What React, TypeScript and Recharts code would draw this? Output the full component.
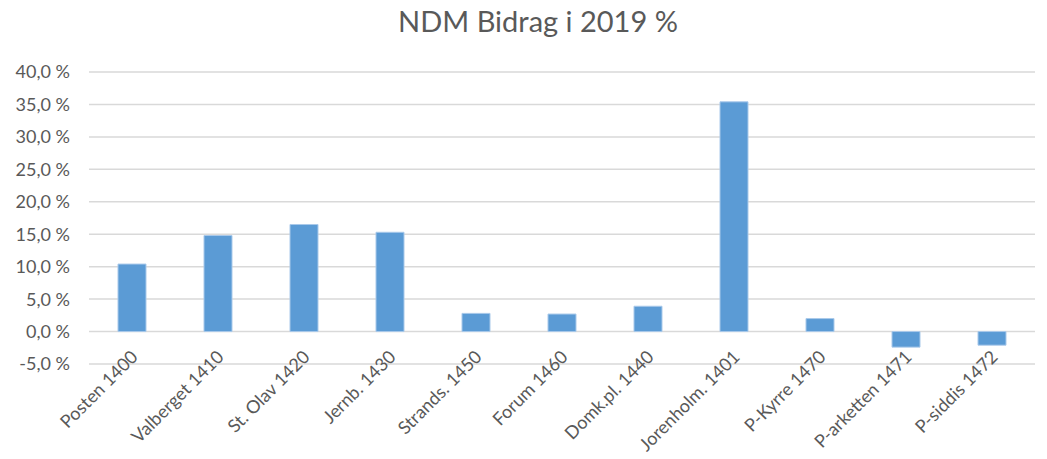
import { BarChart, Bar, XAxis, YAxis, CartesianGrid } from 'recharts';

const categories = [
  'Posten 1400',
  'Valberget 1410',
  'St. Olav 1420',
  'Jernb. 1430',
  'Strands. 1450',
  'Forum 1460',
  'Domk.pl. 1440',
  'Jorenholm. 1401',
  'P-Kyrre 1470',
  'P-arketten 1471',
  'P-siddis 1472',
];

const bidrag = [10.4, 14.8, 16.5, 15.3, 2.8, 2.7, 3.9, 35.4, 2.0, -2.4, -2.1];

const yTicks = [-5, 0, 5, 10, 15, 20, 25, 30, 35, 40];

const data = categories.map((name, i) => ({ name, value: bidrag[i] }));

const FONT = 'Lato, "Open Sans", sans-serif';
const TEXT = '#595959';

const formatPct = (v: number): string => `${v.toFixed(1).replace('.', ',')} %`;

const CategoryTick = (props: any) => {
  const { x, y, payload } = props;
  const ax = x + 7;
  const ay = y - 14;
  return (
    <text
      x={ax}
      y={ay}
      transform={`rotate(-45, ${ax}, ${ay})`}
      textAnchor="end"
      fill={TEXT}
      fontSize={18}
      fontFamily={FONT}
    >
      {payload.value}
    </text>
  );
};

export default function App() {
  return (
    <div style={{ position: 'fixed', left: 0, top: 0, width: 1047, height: 459, background: '#fff' }}>
      <div
        style={{
          position: 'absolute',
          left: 538,
          top: 5,
          transform: 'translateX(-50%)',
          whiteSpace: 'nowrap',
          fontFamily: FONT,
          fontSize: 29,
          lineHeight: '32px',
          color: TEXT,
        }}
      >
        NDM Bidrag i 2019 %
      </div>
      <BarChart
        width={1047}
        height={459}
        data={data}
        margin={{ top: 72, right: 12, left: 0, bottom: 0 }}
      >
        <CartesianGrid stroke="#D9D9D9" strokeWidth={1.5} vertical={false} />
        <XAxis
          dataKey="name"
          height={95}
          axisLine={false}
          tickLine={false}
          interval={0}
          tick={<CategoryTick />}
        />
        <YAxis
          width={89}
          domain={[-5, 40]}
          ticks={yTicks}
          tickFormatter={formatPct}
          axisLine={false}
          tickLine={false}
          tickSize={0}
          tickMargin={19}
          tick={{ fill: TEXT, fontSize: 18, fontFamily: FONT }}
        />
        <Bar
          dataKey="value"
          fill="#5B9BD5"
          stroke="#A9C9EA"
          strokeWidth={1}
          barSize={28}
          isAnimationActive={false}
        />
      </BarChart>
    </div>
  );
}
